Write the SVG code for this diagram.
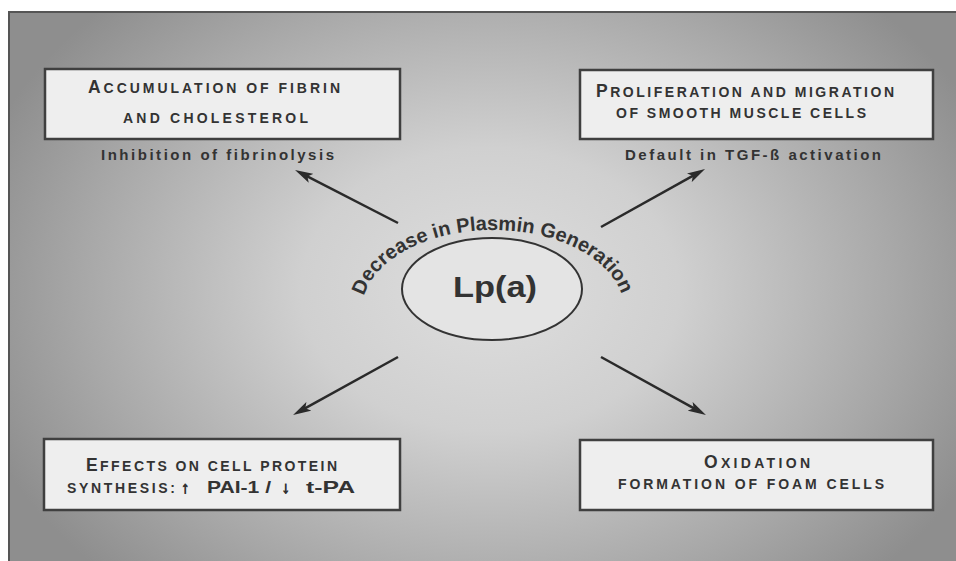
<svg xmlns="http://www.w3.org/2000/svg" width="956" height="561" viewBox="0 0 956 561">
  <defs>
    <radialGradient id="bg" gradientUnits="userSpaceOnUse" cx="490" cy="290" r="540" gradientTransform="translate(490 290) scale(1 0.75) translate(-490 -290)">
      <stop offset="0" stop-color="#dedede"/>
      <stop offset="0.35" stop-color="#d0d0d0"/>
      <stop offset="0.75" stop-color="#a8a8a8"/>
      <stop offset="1" stop-color="#8e8e8e"/>
    </radialGradient>
    <marker id="arr" viewBox="0 0 18 10" refX="8" refY="5" markerWidth="18" markerHeight="10" markerUnits="userSpaceOnUse" orient="auto">
      <path d="M0,0 L18,5 L0,10 L4,5 z" fill="#2a2a2a"/>
    </marker>
    <path id="arc" d="M 362,310 A 131,80 0 0 1 624,310"/>
  </defs>
  <style>
    .box { fill: #eeeeee; stroke: #3f3f3f; stroke-width: 2.5; }
    .t { font-family: "Liberation Sans", Arial, sans-serif; font-weight: bold; fill: #333; text-anchor: middle; }
    .sc { font-size: 14px; }
    .big { font-size: 17.5px; }
    .sub { font-size: 15px; }
    .conn line { stroke: #2a2a2a; stroke-width: 2.5; marker-end: url(#arr); }
  </style>
  <rect x="0" y="0" width="956" height="561" fill="#ffffff"/>
  <rect x="9" y="12" width="960" height="560" fill="url(#bg)" stroke="#555" stroke-width="2"/>

  <g id="connectors" class="conn">
    <line x1="398" y1="223" x2="303.9" y2="174.6"/>
    <line x1="601" y1="227" x2="696.3" y2="173.9"/>
    <line x1="398" y1="357" x2="301.8" y2="410.2"/>
    <line x1="601" y1="357" x2="697.2" y2="410.2"/>
  </g>

  <g id="lpa">
    <ellipse cx="492" cy="289" rx="90" ry="51" fill="#e4e4e4" stroke="#333" stroke-width="2"/>
    <text class="t" x="495" y="297" font-size="29" textLength="84" lengthAdjust="spacingAndGlyphs">Lp(a)</text>
  </g>

  <g id="plasmin-label">
    <text class="t" font-size="20" style="text-anchor:start"><textPath href="#arc" startOffset="14" textLength="306" lengthAdjust="spacing">Decrease in Plasmin Generation</textPath></text>
  </g>

  <g id="fibrin">
    <rect class="box" x="45" y="69" width="355" height="70"/>
    <text class="t" x="214" y="93" textLength="252" lengthAdjust="spacing"><tspan class="big">A</tspan><tspan class="sc">CCUMULATION OF FIBRIN</tspan></text>
    <text class="t sc" x="215.5" y="123" textLength="185" lengthAdjust="spacing">AND  CHOLESTEROL</text>
    <text class="t sub" x="217.5" y="160" textLength="233" lengthAdjust="spacing">Inhibition of fibrinolysis</text>
  </g>

  <g id="proliferation">
    <rect class="box" x="580" y="70" width="353" height="69"/>
    <text class="t" x="745" y="97" textLength="298" lengthAdjust="spacing"><tspan class="big">P</tspan><tspan class="sc">ROLIFERATION AND MIGRATION</tspan></text>
    <text class="t sc" x="741" y="118" textLength="250" lengthAdjust="spacing">OF SMOOTH MUSCLE CELLS</text>
    <text class="t sub" x="753" y="160" textLength="256" lengthAdjust="spacing">Default in TGF-ß activation</text>
  </g>

  <g id="effects">
    <rect class="box" x="44" y="439" width="356" height="71"/>
    <text class="t" x="211.5" y="471" textLength="251" lengthAdjust="spacing"><tspan class="big">E</tspan><tspan class="sc">FFECTS ON CELL PROTEIN</tspan></text>
    <text class="t sc" x="67" y="493" style="text-anchor:start" textLength="108" lengthAdjust="spacing">SYNTHESIS:</text>
    <text class="t" x="185" y="493" font-size="16" stroke="#333" stroke-width="0.9">↑</text>
    <text class="t" x="207" y="493" font-size="17" style="text-anchor:start" textLength="64" lengthAdjust="spacingAndGlyphs">PAI-1 /</text>
    <text class="t" x="285.5" y="493" font-size="16" stroke="#333" stroke-width="0.9">↓</text>
    <text class="t" x="306" y="493" font-size="17" style="text-anchor:start" textLength="49" lengthAdjust="spacingAndGlyphs">t-PA</text>
  </g>

  <g id="oxidation">
    <rect class="box" x="580" y="440" width="353" height="70"/>
    <text class="t" x="757" y="468" textLength="106" lengthAdjust="spacing"><tspan class="big">O</tspan><tspan class="sc">XIDATION</tspan></text>
    <text class="t sc" x="751" y="489" textLength="266" lengthAdjust="spacing">FORMATION OF FOAM CELLS</text>
  </g>
</svg>
